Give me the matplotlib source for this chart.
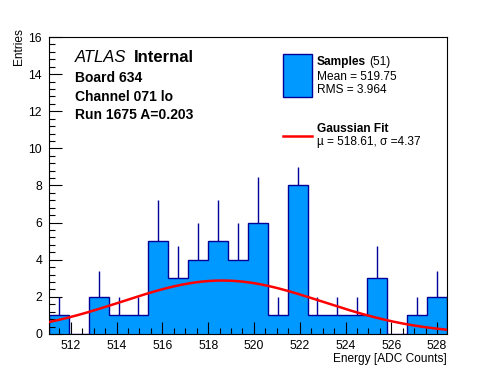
import numpy as np
import matplotlib.pyplot as plt
from matplotlib.ticker import MultipleLocator
from matplotlib.patches import Rectangle
from matplotlib.lines import Line2D

plt.rcParams['font.family'] = ['Liberation Sans', 'DejaVu Sans']

# histogram: 20 bins between the axis limits
x_lo = 511.05
x_hi = 528.42
counts = [1, 0, 2, 1, 1, 5, 3, 4, 5, 4, 6, 1, 8, 1, 1, 1, 3, 0, 1, 2]
# upper error bar lengths
errors = [1, 0, 1.41, 1, 1, 2.24, 1.73, 2, 2.24, 2, 2.45, 1, 1, 1, 1, 1, 1.73, 0, 1, 1.41]

# gaussian fit parameters
fit_amp = 2.88
fit_mu = 518.61
fit_sigma = 4.37

fill_col = '#0099ff'
edge_col = '#000099'

edges = np.linspace(x_lo, x_hi, len(counts) + 1)
centers = 0.5 * (edges[:-1] + edges[1:])
counts = np.array(counts, dtype=float)
err = np.array(errors)

fig = plt.figure(figsize=(4.96, 3.72), dpi=100)
ax = fig.add_axes([0.0988, 0.1022, 0.8018, 0.7983])

ax.stairs(counts, edges, fill=True, color=fill_col, baseline=0, zorder=1)
ax.stairs(counts, edges, fill=False, color=edge_col, baseline=0, lw=1.0, zorder=2)
nz = err > 0
ax.vlines(centers[nz], counts[nz], (counts + err)[nz], color=edge_col, lw=1.0, zorder=2)

xf = np.linspace(x_lo, x_hi, 300)
ax.plot(xf, fit_amp * np.exp(-0.5 * ((xf - fit_mu) / fit_sigma) ** 2), color='red', lw=1.8, zorder=3)

ax.set_xlim(x_lo, x_hi)
ax.set_ylim(0, 16)
ax.xaxis.set_major_locator(MultipleLocator(2))
ax.xaxis.set_minor_locator(MultipleLocator(0.5))
ax.yaxis.set_major_locator(MultipleLocator(2))
ax.yaxis.set_minor_locator(MultipleLocator(0.4))
ax.tick_params(which='both', direction='in', labelsize=8.8, width=0.8, top=False, right=False)
ax.tick_params(which='major', length=9)
ax.tick_params(which='minor', length=4.5)
ax.tick_params(axis='x', pad=4)
ax.tick_params(axis='y', pad=5)
for s in ax.spines.values():
    s.set_linewidth(0.8)

ax.set_xlabel('Energy [ADC Counts]', fontsize=8.6, loc='right', labelpad=1)
fig.text(19 / 496, 1 - 28 / 372, 'Entries', fontsize=8.6, rotation=90, ha='center', va='top')

# ATLAS label block
fig.text(75 / 496, 1 - 57 / 372, 'ATLAS', fontsize=12, style='italic', va='center')
fig.text(134 / 496, 1 - 57 / 372, 'Internal', fontsize=12, fontweight='bold', va='center')
fig.text(75 / 496, 1 - 77.5 / 372, 'Board 634', fontsize=10, fontweight='bold', va='center')
fig.text(75 / 496, 1 - 97 / 372, 'Channel 071 lo', fontsize=10, fontweight='bold', va='center')
fig.text(75 / 496, 1 - 115 / 372, 'Run 1675 A=0.203', fontsize=10, fontweight='bold', va='center')

# legend drawn by hand
fig.add_artist(Rectangle((283 / 496, 1 - 97 / 372), 28.5 / 496, 43.5 / 372,
                         transform=fig.transFigure, facecolor=fill_col, edgecolor=edge_col, lw=1.0))
fig.text(317 / 496, 1 - 62 / 372, 'Samples', fontsize=8.6, fontweight='bold', va='center')
fig.text(369 / 496, 1 - 62 / 372, '(51)', fontsize=8.6, va='center')
fig.text(317 / 496, 1 - 76.5 / 372, 'Mean = 519.75', fontsize=8.6, va='center')
fig.text(317 / 496, 1 - 90 / 372, 'RMS = 3.964', fontsize=8.6, va='center')
fig.add_artist(Line2D([283 / 496, 311.5 / 496], [1 - 136 / 372, 1 - 136 / 372],
                      transform=fig.transFigure, color='red', lw=1.8))
fig.text(317 / 496, 1 - 129 / 372, 'Gaussian Fit', fontsize=8.6, fontweight='bold', va='center')
fig.text(317 / 496, 1 - 142 / 372, 'µ = 518.61, σ =4.37', fontsize=8.6, va='center')

fig.savefig('out.png', dpi=100)
